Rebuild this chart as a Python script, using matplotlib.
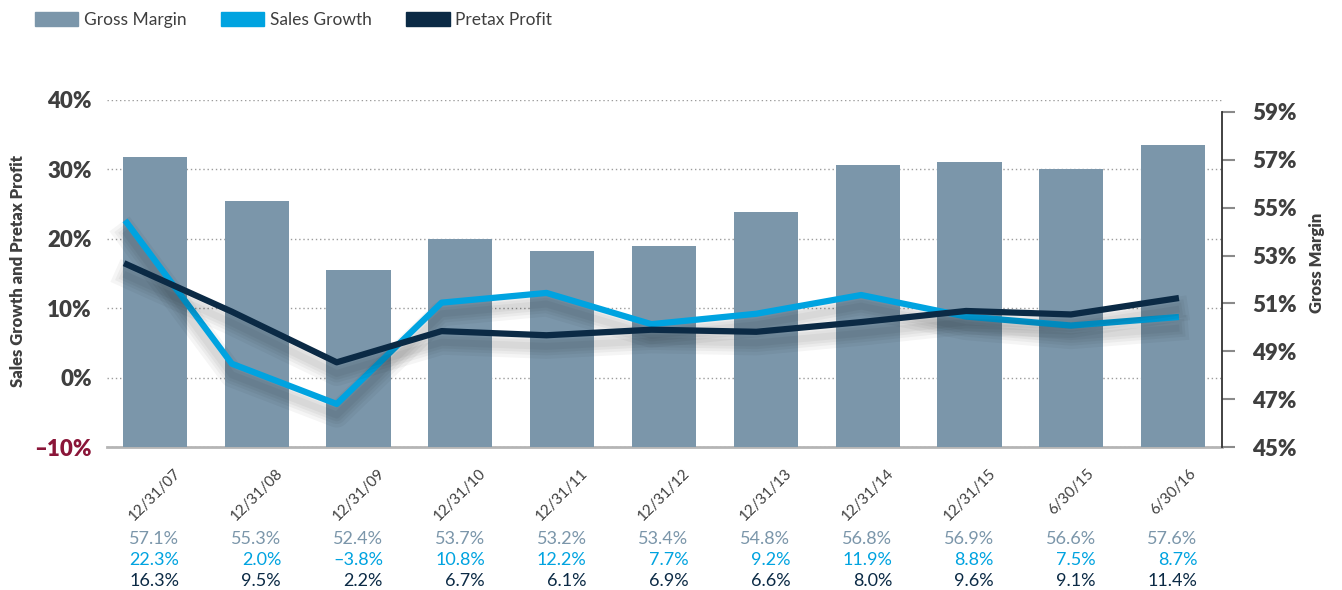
import numpy as np
import matplotlib
matplotlib.use("Agg")
import matplotlib.pyplot as plt
import matplotlib.patheffects as pe
import matplotlib.transforms as mtransforms
from matplotlib.patches import Patch

periods = ["12/31/07", "12/31/08", "12/31/09", "12/31/10", "12/31/11", "12/31/12",
           "12/31/13", "12/31/14", "12/31/15", "6/30/15", "6/30/16"]
gross_margin = [57.1, 55.3, 52.4, 53.7, 53.2, 53.4, 54.8, 56.8, 56.9, 56.6, 57.6]
sales_growth = [22.3, 2.0, -3.8, 10.8, 12.2, 7.7, 9.2, 11.9, 8.8, 7.5, 8.7]
pretax_profit = [16.3, 9.5, 2.2, 6.7, 6.1, 6.9, 6.6, 8.0, 9.6, 9.1, 11.4]
left_ticks = [-10, 0, 10, 20, 30, 40]
right_ticks = [45, 47, 49, 51, 53, 55, 57, 59]

GRAY = "#7b96aa"
BLUE = "#00a3e0"
NAVY = "#0b2a45"
TEXT = "#3f3f3f"
RED = "#8a1538"

plt.rcParams["font.family"] = ["Lato", "DejaVu Sans"]

fig = plt.figure(figsize=(13.42, 5.9), dpi=100)
pos = [107 / 1342, 1 - 447 / 590, 1115 / 1342, 347 / 590]
ax = fig.add_axes(pos)
ax_r = ax.twinx()

x = np.arange(len(periods))

# left axis: grid + percentage ticks
ax.set_xlim(-0.47, 10.48)
ax.set_ylim(-10, 40)
ax.set_yticks(left_ticks, [f"{t}%".replace("-", "\u2013") for t in left_ticks],
              fontweight="heavy")
ax.tick_params(axis="y", length=0, pad=11, labelsize=16, labelcolor=TEXT)
ax.get_yticklabels()[0].set_color(RED)
ax.yaxis.grid(True, linestyle=(0, (1, 2)), color="#9c9c9c", linewidth=1)
ax.set_axisbelow(True)
ax.set_xticks(x, periods, rotation=45, ha="center")
ax.tick_params(axis="x", length=0, pad=14, labelsize=11, labelcolor=TEXT)
for s in ["top", "left", "right"]:
    ax.spines[s].set_visible(False)
ax.spines["bottom"].set_color("#b5b5b5")
ax.spines["bottom"].set_linewidth(2)

# right axis: gross margin bars
ax_r.bar(x, gross_margin, width=0.63, color=GRAY, zorder=1)
ax_r.set_ylim(45, 59.5)
ax_r.set_yticks(right_ticks, [f"{t}%" for t in right_ticks], fontweight="heavy")
ax_r.tick_params(axis="y", length=9, width=1.5, color="#8a8a8a", pad=13,
                 labelsize=16, labelcolor=TEXT)
for s in ["top", "left", "bottom"]:
    ax_r.spines[s].set_visible(False)
ax_r.spines["right"].set_color("#333333")
ax_r.spines["right"].set_linewidth(1.3)
ax_r.spines["right"].set_bounds(45, 59)

# lines on their own overlay so they sit above the bars
ax_l = fig.add_axes(pos)
ax_l.set_xlim(-0.19, 10.44)
ax_l.set_ylim(-10, 40)
ax_l.axis("off")

shadow = [pe.SimpleLineShadow(offset=(0, -8), shadow_color="black", alpha=0.04, linewidth=w)
          for w in (18, 13, 9, 5)] + [pe.Normal()]
ax_l.plot(x, sales_growth, color=BLUE, linewidth=4.5, path_effects=shadow)
ax_l.plot(x, pretax_profit, color=NAVY, linewidth=4.5, path_effects=shadow)

fig.text(0.0134, 0.541, "Sales Growth and Pretax Profit", rotation=90, ha="center",
         va="center", fontsize=12, fontweight="heavy", color=TEXT)
fig.text(0.9814, 0.554, "Gross Margin", rotation=90, ha="center", va="center",
         fontsize=12, fontweight="heavy", color=TEXT)

# value rows under the dates
trans = mtransforms.blended_transform_factory(ax.transData, fig.transFigure)
rows = [(gross_margin, GRAY, 0.087), (sales_growth, BLUE, 0.0515), (pretax_profit, NAVY, 0.016)]
for vals, col, yy in rows:
    for i, v in enumerate(vals):
        ax.text(i + 0.24, yy, f"{v:.1f}%".replace("-", "\u2013"), transform=trans,
                ha="right", va="center", fontsize=13, color=col)

handles = [Patch(color=GRAY, label="Gross Margin"),
           Patch(color=BLUE, label="Sales Growth"),
           Patch(color=NAVY, label="Pretax Profit")]
leg = fig.legend(handles=handles, loc="upper left", bbox_to_anchor=(35 / 1342, 1 - 12 / 590),
                 ncol=3, frameon=False, fontsize=12.5, handlelength=2.5, handleheight=0.85,
                 handletextpad=0.3, columnspacing=2.0, borderpad=0, borderaxespad=0)
for t in leg.get_texts():
    t.set_color(TEXT)

fig.savefig("out.png", dpi=100)
